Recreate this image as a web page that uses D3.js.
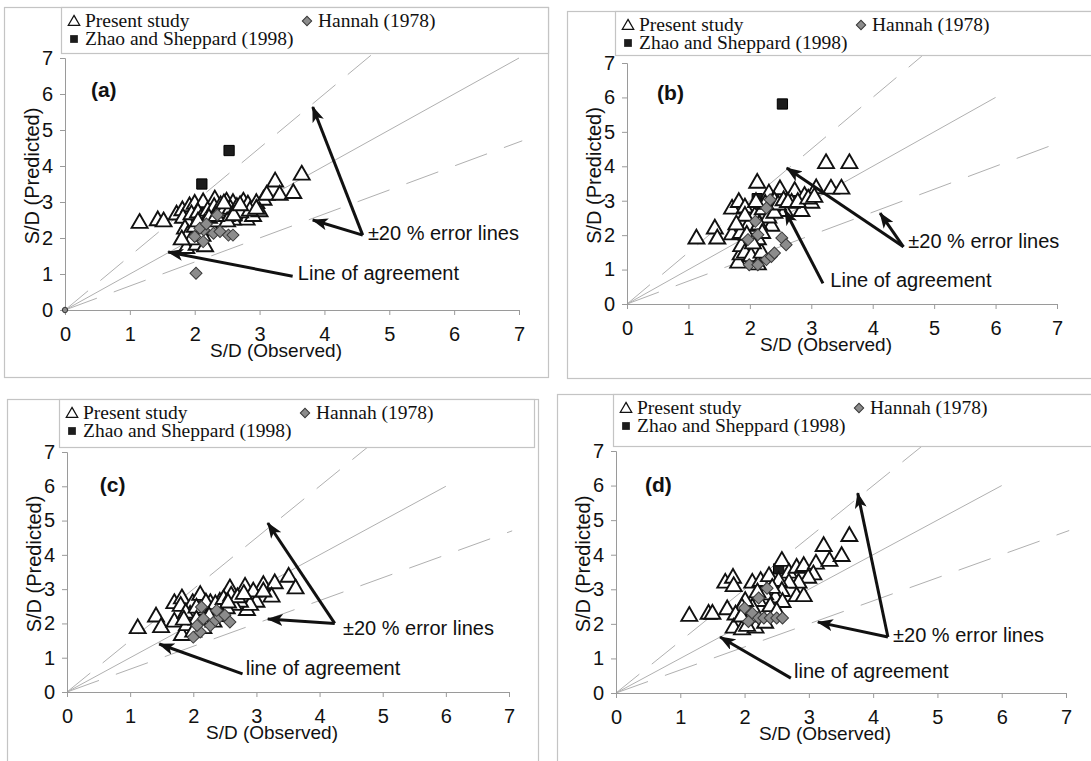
<!DOCTYPE html>
<html>
<head>
<meta charset="utf-8">
<script src="https://cdn.jsdelivr.net/npm/d3@7"></script>
<style>
  body { margin: 0; background: #fff; }
  svg { display: block; }
  .tick text { font-family: "Liberation Sans", Arial, sans-serif; }
</style>
</head>
<body>
<svg id="vis" width="1091" height="761"></svg>
<script>
// ---- data: [observed, predicted] pairs ----
var present_a = [[1.15,2.41],[1.43,2.48],[1.52,2.45],[1.72,2.64],[1.81,2.76],[1.92,2.87],[2.0,2.94],[2.13,2.98],
  [2.31,3.06],[2.49,3.0],[2.59,2.96],[2.75,3.0],[2.82,2.92],[2.95,2.96],[3.06,3.05],[3.11,3.19],[3.24,3.56],
  [3.31,3.19],[3.52,3.24],[3.65,3.75],[2.8,2.5],[2.9,2.6],[3.0,2.73],[2.59,2.5],[2.49,2.6],[2.39,2.69],
  [1.87,1.71],[2.03,1.8],[2.16,1.76],[1.82,2.55],[1.9,2.4],[1.85,2.25],[1.95,2.65],[2.05,2.7],[2.1,2.55],
  [2.2,2.75],[2.25,2.6],[2.3,2.85],[2.4,2.9],[2.45,2.75],[2.55,2.8],[2.65,2.85],[2.7,2.7],[2.85,2.75],
  [2.95,2.8],[1.9,2.1],[1.95,1.95],[2.08,2.2],[2.15,2.4],[2.25,2.3],[2.35,2.45],[2.5,2.45],[2.6,2.62],
  [2.7,2.9],[1.8,1.95],[2.0,2.3],[2.12,2.05],[2.22,2.55],[2.45,2.95],[2.05,2.45],[2.33,2.6]];
var hannah_a = [[2.02,1.02],[2.35,2.64],[2.0,2.04],[2.14,2.22],[2.13,1.9],[2.29,2.13],[2.39,2.18],
  [2.52,2.08],[2.59,2.08],[2.08,2.27],[2.18,2.39],[0,0]];
var zhao_a = [[2.53,4.43],[2.11,3.5]];

var present_b = [[1.13,1.89],[1.43,2.18],[1.47,1.89],[1.71,2.01],[1.71,2.76],[1.82,2.95],[1.92,2.79],
  [2.12,3.51],[2.31,3.2],[2.49,3.32],[2.73,3.27],[2.89,3.13],[3.08,3.35],[3.24,4.08],[3.32,3.34],
  [3.49,3.34],[3.62,4.08],[3.0,2.93],[2.84,2.69],[2.68,2.93],[2.57,2.69],[2.4,2.98],[1.81,1.19],
  [1.85,1.43],[1.86,1.67],[1.92,1.48],[2.02,1.38],[2.13,1.14],[2.19,1.48],[2.13,1.87],[2.02,2.16],
  [2.08,2.55],[1.97,2.26],[1.92,2.55],[2.21,2.74],[2.35,2.26],[2.3,2.5],[2.4,2.64],[2.46,2.88],
  [1.85,2.05],[1.95,2.0],[2.05,1.75],[2.15,2.3],[2.25,2.9],[2.55,3.0],[2.62,2.95],[2.78,2.95],
  [2.95,3.05],[3.05,3.1],[2.2,2.05],[1.78,2.3],[2.1,2.95]];
var hannah_b = [[1.99,1.14],[2.13,1.14],[2.27,1.29],[2.35,1.38],[2.4,1.48],[2.52,1.92],[2.59,1.72],
  [1.97,1.87],[2.13,2.01],[2.09,2.4],[2.33,3.03],[2.27,2.79]];
var zhao_b = [[2.53,5.81],[2.12,3.06]];

var present_c = [[1.12,1.85],[1.41,2.19],[1.49,1.88],[1.7,2.58],[1.82,2.72],[1.7,2.04],[1.82,1.65],
  [1.99,2.58],[2.11,2.82],[2.27,2.58],[2.42,2.62],[2.58,3.01],[2.82,3.06],[3.11,3.11],[3.29,3.16],
  [3.51,3.35],[3.62,3.01],[3.24,2.77],[3.0,2.62],[2.85,2.38],[2.9,2.53],[2.74,2.62],[2.64,2.53],
  [2.53,2.43],[2.11,2.38],[1.95,2.24],[1.9,1.94],[2.0,1.75],[2.16,1.85],[2.32,2.04],[2.37,2.33],
  [2.95,2.92],[3.11,2.92],[1.8,2.5],[1.88,2.3],[2.05,2.45],[2.2,2.6],[2.35,2.55],[2.48,2.7],
  [2.6,2.8],[2.7,2.75],[2.8,2.85],[2.25,2.2],[2.45,2.2],[2.05,2.1],[1.85,2.1],[2.55,2.6]];
var hannah_c = [[2.0,1.6],[2.11,1.75],[2.06,1.94],[2.16,2.14],[2.27,1.94],[2.35,2.09],[2.42,2.19],
  [2.5,2.24],[2.58,2.04],[2.13,2.48],[2.37,2.38]];
var zhao_c = [[2.13,2.28],[2.53,2.53]];

var present_d = [[1.14,2.22],[1.44,2.28],[1.5,2.28],[1.73,2.41],[1.7,3.18],[1.82,3.32],[1.83,3.08],
  [2.12,3.18],[2.25,3.23],[2.38,3.37],[2.58,3.81],[2.69,3.47],[2.81,3.61],[2.92,3.66],[3.11,3.73],
  [3.23,4.24],[3.32,3.81],[3.51,3.95],[3.63,4.53],[2.81,2.79],[2.92,2.79],[3.07,3.42],[2.99,3.32],
  [2.84,3.18],[2.69,3.18],[2.53,3.23],[2.58,2.94],[2.48,2.75],[2.59,2.62],[2.43,3.03],[2.32,2.84],
  [2.22,2.65],[2.12,2.46],[2.01,2.65],[1.96,2.46],[1.86,2.26],[1.91,2.07],[1.83,1.88],[1.96,1.83],
  [2.17,1.88],[2.32,2.02],[2.04,1.93],[2.2,2.9],[2.4,2.5],[2.5,2.35],[2.1,2.2],[1.95,2.2]];
var hannah_d = [[2.0,2.46],[2.12,2.31],[2.22,2.17],[2.3,2.17],[2.4,2.17],[2.5,2.17],[2.59,2.17],
  [2.35,3.03],[2.22,2.75],[2.06,2.07]];
var zhao_d = [[2.53,3.59],[2.12,2.46]];

var x_ticks = [0, 1, 2, 3, 4, 5, 6, 7];
var y_ticks = [0, 1, 2, 3, 4, 5, 6, 7];
var legend_names = ["Present study", "Hannah (1978)", "Zhao and Sheppard (1998)"];
var upper_slope = 1.5, lower_slope = 2 / 3;

// ---- panel layout ----
var panels = [
  { tag: "(a)", present: present_a, hannah: hannah_a, zhao: zhao_a, agree_end: 7,
    box: [4, 7, 548, 377], legend: [61, 7, 548, 53], px: [65, 519], py: [310, 58],
    tag_at: [0.4, 5.92], err_text: "±20 % error lines", err_at: [4.67, 1.94],
    err_tail: [4.59, 2.08], err_tips: [[3.82, 5.64], [3.82, 2.5]],
    agr_text: "Line of agreement", agr_at: [3.59, 0.83], agr_tail: [3.51, 0.94], agr_tip: [1.59, 1.61] },
  { tag: "(b)", present: present_b, hannah: hannah_b, zhao: zhao_b, agree_end: 6,
    box: [567, 11, 1100, 378], legend: [615, 11, 1100, 55], px: [627, 1057], py: [304, 63],
    tag_at: [0.49, 5.93], err_text: "±20 % error lines", err_at: [4.58, 1.63],
    err_tail: [4.5, 1.66], err_tips: [[2.6, 3.95], [4.12, 2.64]],
    agr_text: "Line of agreement", agr_at: [3.31, 0.5], agr_tail: [3.19, 0.6], agr_tip: [2.57, 2.73] },
  { tag: "(c)", present: present_c, hannah: hannah_c, zhao: zhao_c, agree_end: 6,
    box: [7, 399, 538, 770], legend: [59, 399, 534, 447], px: [67, 509], py: [692, 452],
    tag_at: [0.52, 5.83], err_text: "±20 % error lines", err_at: [4.37, 1.66],
    err_tail: [4.24, 2.0], err_tips: [[3.18, 4.93], [3.18, 2.13]],
    agr_text: "line of agreement", agr_at: [2.83, 0.5], agr_tail: [2.78, 0.53], agr_tip: [1.46, 1.4] },
  { tag: "(d)", present: present_d, hannah: hannah_d, zhao: zhao_d, agree_end: 6,
    box: [557, 394, 1100, 770], legend: [613, 394, 1100, 446], px: [616, 1066], py: [693, 451],
    tag_at: [0.45, 5.81], err_text: "±20 % error lines", err_at: [4.31, 1.47],
    err_tail: [4.23, 1.62], err_tips: [[3.76, 5.78], [3.14, 2.05]],
    agr_text: "line of agreement", agr_at: [2.77, 0.43], agr_tail: [2.72, 0.43], agr_tip: [1.62, 1.62] }
];

var sans = "'Liberation Sans', Arial, sans-serif";
var serif = "'Liberation Serif', 'Times New Roman', serif";
var svg = d3.select("#vis");

svg.append("defs")
  .append("marker")
  .attr("id", "head")
  .attr("viewBox", "0 0 16 12")
  .attr("refX", 15)
  .attr("refY", 6)
  .attr("markerWidth", 16)
  .attr("markerHeight", 12)
  .attr("markerUnits", "userSpaceOnUse")
  .attr("orient", "auto")
  .append("path")
  .attr("d", "M0,0L16,6L0,12L4,6Z")
  .attr("fill", "#111");

var tri = d3.symbol().type(d3.symbolTriangle).size(110);
var tri_small = d3.symbol().type(d3.symbolTriangle).size(56);
var sq = d3.symbol().type(d3.symbolSquare).size(105);
var sq_small = d3.symbol().type(d3.symbolSquare).size(60);
var dia = d3.symbol().type(d3.symbolSquare).size(72);
var dia_small = d3.symbol().type(d3.symbolSquare).size(44);
var dot = d3.symbol().type(d3.symbolCircle).size(20);

panels.forEach(function(p) {
  var x = d3.scaleLinear().domain([0, 7]).range(p.px);
  var y = d3.scaleLinear().domain([0, 7]).range(p.py);
  var g = svg.append("g");

  // outer frame
  g.append("rect")
    .attr("x", p.box[0] + 0.5).attr("y", p.box[1] + 0.5)
    .attr("width", p.box[2] - p.box[0]).attr("height", p.box[3] - p.box[1])
    .attr("fill", "#fff").attr("stroke", "#c4c4c4").attr("stroke-width", 1.2);

  // reference lines
  var line = d3.line().x(function(d) { return x(d[0]); }).y(function(d) { return y(d[1]); });
  var refs = [
    { pts: [[0, 0], [7.2 / upper_slope, 7.2]], dash: "30,16" },
    { pts: [[0, 0], [p.agree_end, p.agree_end]], dash: null },
    { pts: [[0, 0], [7.05, 7.05 * lower_slope]], dash: "34,18" }
  ];
  g.selectAll(".ref")
    .data(refs)
    .enter()
    .append("path")
    .attr("d", function(d) { return line(d.pts); })
    .attr("fill", "none")
    .attr("stroke", "#b0b0b0")
    .attr("stroke-width", 1)
    .attr("stroke-dasharray", function(d) { return d.dash; });

  // axes
  var x_axis = d3.axisBottom(x).tickValues(x_ticks).tickFormat(d3.format("d")).tickSize(5).tickPadding(12);
  var y_axis = d3.axisLeft(y).tickValues(y_ticks).tickFormat(d3.format("d")).tickSize(5).tickPadding(7);
  var gx = g.append("g").attr("transform", "translate(0," + p.py[0] + ")").call(x_axis);
  var gy = g.append("g").attr("transform", "translate(" + p.px[0] + ",0)").call(y_axis);
  [gx, gy].forEach(function(a) {
    a.select(".domain").attr("stroke", "#9a9a9a");
    a.selectAll(".tick line").attr("stroke", "#9a9a9a");
    a.selectAll(".tick text").attr("font-size", 20).attr("fill", "#111");
  });

  // markers
  g.selectAll(".zhao").data(p.zhao).enter().append("path")
    .attr("d", sq)
    .attr("transform", function(d) { return "translate(" + x(d[0]) + "," + y(d[1]) + ")"; })
    .attr("fill", "#1c1c1c").attr("stroke", "#000").attr("stroke-width", 1);
  g.selectAll(".present").data(p.present).enter().append("path")
    .attr("d", tri)
    .attr("transform", function(d) { return "translate(" + x(d[0]) + "," + y(d[1]) + ")"; })
    .attr("fill", "#fff").attr("stroke", "#111").attr("stroke-width", 1.9);
  g.selectAll(".hannah").data(p.hannah).enter().append("path")
    .attr("d", function(d) { return d[0] === 0 ? dot() : dia(); })
    .attr("transform", function(d) { return "translate(" + x(d[0]) + "," + y(d[1]) + ")rotate(45)"; })
    .attr("fill", "#8c8c8c").attr("stroke", "#3a3a3a").attr("stroke-width", 1);

  // legend (drawn over the top of the reference lines)
  var lx = p.legend[0], ly = p.legend[1];
  g.append("rect")
    .attr("x", lx + 0.5).attr("y", ly + 0.5)
    .attr("width", p.legend[2] - lx).attr("height", p.legend[3] - ly)
    .attr("fill", "#fff").attr("stroke", "#c4c4c4").attr("stroke-width", 1.2);
  g.append("path").attr("d", tri_small)
    .attr("transform", "translate(" + (lx + 13) + "," + (ly + 15) + ")")
    .attr("fill", "#fff").attr("stroke", "#111").attr("stroke-width", 1.3);
  g.append("path").attr("d", dia_small)
    .attr("transform", "translate(" + (lx + 246) + "," + (ly + 14) + ")rotate(45)")
    .attr("fill", "#8c8c8c").attr("stroke", "#3a3a3a");
  g.append("path").attr("d", sq_small)
    .attr("transform", "translate(" + (lx + 13) + "," + (ly + 32) + ")")
    .attr("fill", "#1c1c1c");
  var ltext = [[legend_names[0], lx + 24, ly + 20], [legend_names[1], lx + 257, ly + 20],
               [legend_names[2], lx + 24, ly + 38]];
  g.selectAll(".ltext").data(ltext).enter().append("text")
    .attr("x", function(d) { return d[1]; })
    .attr("y", function(d) { return d[2]; })
    .attr("font-family", serif).attr("font-size", 19.5).attr("fill", "#111")
    .text(function(d) { return d[0]; });

  // axis titles
  g.append("text")
    .attr("x", (p.px[0] + p.px[1]) / 2 - 16).attr("y", p.py[0] + 47)
    .attr("text-anchor", "middle").attr("font-family", sans).attr("font-size", 19).attr("fill", "#111")
    .text("S/D (Observed)");
  g.append("text")
    .attr("transform", "translate(" + (p.px[0] - 26) + "," + ((p.py[0] + p.py[1]) / 2 - 8) + ")rotate(-90)")
    .attr("text-anchor", "middle").attr("font-family", sans).attr("font-size", 20).attr("fill", "#111")
    .text("S/D (Predicted)");

  // panel tag
  g.append("text")
    .attr("x", x(p.tag_at[0])).attr("y", y(p.tag_at[1]))
    .attr("font-family", sans).attr("font-size", 21).attr("font-weight", "bold").attr("fill", "#111")
    .text(p.tag);

  // annotations
  var arrows = p.err_tips.map(function(t) { return [p.err_tail, t]; }).concat([[p.agr_tail, p.agr_tip]]);
  g.selectAll(".arrow").data(arrows).enter().append("line")
    .attr("x1", function(d) { return x(d[0][0]); }).attr("y1", function(d) { return y(d[0][1]); })
    .attr("x2", function(d) { return x(d[1][0]); }).attr("y2", function(d) { return y(d[1][1]); })
    .attr("stroke", "#111").attr("stroke-width", 3)
    .attr("marker-end", "url(#head)");
  g.append("text")
    .attr("x", x(p.err_at[0])).attr("y", y(p.err_at[1]))
    .attr("font-family", sans).attr("font-size", 20).attr("fill", "#111")
    .text(p.err_text);
  g.append("text")
    .attr("x", x(p.agr_at[0])).attr("y", y(p.agr_at[1]))
    .attr("font-family", sans).attr("font-size", 20).attr("fill", "#111")
    .text(p.agr_text);
});
</script>
</body>
</html>
